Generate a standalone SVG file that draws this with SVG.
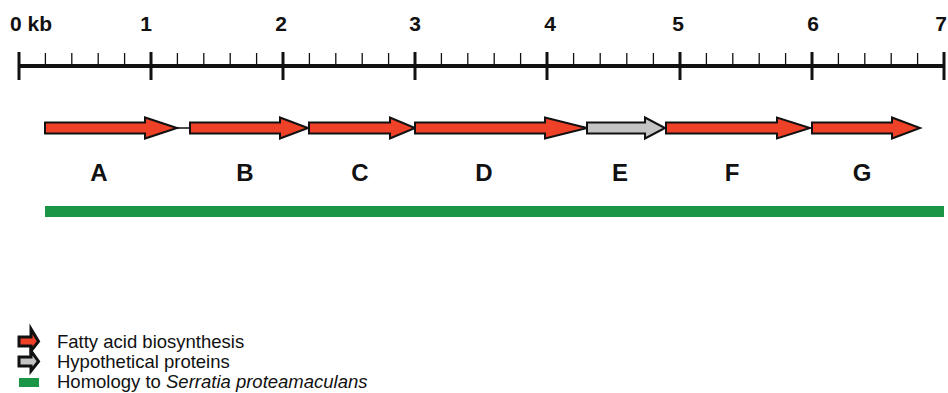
<svg xmlns="http://www.w3.org/2000/svg" width="948" height="393" viewBox="0 0 948 393">
<style>
.sc{font-family:"Liberation Sans",Arial,sans-serif;font-weight:bold;font-size:21px;fill:#111;text-anchor:middle}
.gl{font-family:"Liberation Sans",Arial,sans-serif;font-weight:bold;font-size:24px;fill:#111;text-anchor:middle}
.lg{font-family:"Liberation Sans",Arial,sans-serif;font-size:18.5px;fill:#111}
.red{fill:#ee4128;stroke:#111;stroke-width:2;stroke-linejoin:miter}
.grey{fill:#c4c4c4;stroke:#111;stroke-width:2}
.maj{stroke:#111;stroke-width:3}
.min{stroke:#111;stroke-width:1.3}
</style>
<rect width="948" height="393" fill="#fff"/>
<g id="scale">
<line x1="19" y1="66" x2="944" y2="66" stroke="#111" stroke-width="4"/>
<g class="maj">
<line x1="19" y1="52" x2="19" y2="80"/><line x1="151" y1="52" x2="151" y2="80"/><line x1="283" y1="52" x2="283" y2="80"/><line x1="415" y1="52" x2="415" y2="80"/><line x1="547" y1="52" x2="547" y2="80"/><line x1="680" y1="52" x2="680" y2="80"/><line x1="812" y1="52" x2="812" y2="80"/><line x1="944" y1="52" x2="944" y2="80"/>
</g>
<g class="min">
<line x1="45.4" y1="53" x2="45.4" y2="64"/><line x1="71.8" y1="53" x2="71.8" y2="64"/><line x1="98.2" y1="53" x2="98.2" y2="64"/><line x1="124.6" y1="53" x2="124.6" y2="64"/>
<line x1="177.4" y1="53" x2="177.4" y2="64"/><line x1="203.8" y1="53" x2="203.8" y2="64"/><line x1="230.2" y1="53" x2="230.2" y2="64"/><line x1="256.6" y1="53" x2="256.6" y2="64"/>
<line x1="309.4" y1="53" x2="309.4" y2="64"/><line x1="335.8" y1="53" x2="335.8" y2="64"/><line x1="362.2" y1="53" x2="362.2" y2="64"/><line x1="388.6" y1="53" x2="388.6" y2="64"/>
<line x1="441.4" y1="53" x2="441.4" y2="64"/><line x1="467.8" y1="53" x2="467.8" y2="64"/><line x1="494.2" y1="53" x2="494.2" y2="64"/><line x1="520.6" y1="53" x2="520.6" y2="64"/>
<line x1="573.6" y1="53" x2="573.6" y2="64"/><line x1="600.2" y1="53" x2="600.2" y2="64"/><line x1="626.8" y1="53" x2="626.8" y2="64"/><line x1="653.4" y1="53" x2="653.4" y2="64"/>
<line x1="706.4" y1="53" x2="706.4" y2="64"/><line x1="732.8" y1="53" x2="732.8" y2="64"/><line x1="759.2" y1="53" x2="759.2" y2="64"/><line x1="785.6" y1="53" x2="785.6" y2="64"/>
<line x1="838.4" y1="53" x2="838.4" y2="64"/><line x1="864.8" y1="53" x2="864.8" y2="64"/><line x1="891.2" y1="53" x2="891.2" y2="64"/><line x1="917.6" y1="53" x2="917.6" y2="64"/>
</g>
<text class="sc" x="10" y="31" style="text-anchor:start">0 kb</text>
<text class="sc" x="146" y="31">1</text>
<text class="sc" x="281" y="31">2</text>
<text class="sc" x="415" y="31">3</text>
<text class="sc" x="550" y="31">4</text>
<text class="sc" x="678" y="31">5</text>
<text class="sc" x="813" y="31">6</text>
<text class="sc" x="941" y="31">7</text>
</g>
<g id="connectors">
<line x1="177" y1="128" x2="190" y2="128" stroke="#111" stroke-width="1.5"/>
</g>
<g id="geneA"><polygon class="red" points="45,122.5 145,122.5 145,117.5 177,128 145,138.5 145,133.5 45,133.5"/><text class="gl" x="99" y="181">A</text></g>
<g id="geneB"><polygon class="red" points="190,122.5 280,122.5 280,117.5 308,128 280,138.5 280,133.5 190,133.5"/><text class="gl" x="245" y="181">B</text></g>
<g id="geneC"><polygon class="red" points="309,122.5 390,122.5 390,117.5 415,128 390,138.5 390,133.5 309,133.5"/><text class="gl" x="360" y="181">C</text></g>
<g id="geneD"><polygon class="red" points="415,122.5 545,122.5 545,117.5 587,128 545,138.5 545,133.5 415,133.5"/><text class="gl" x="484" y="181">D</text></g>
<g id="geneE"><polygon class="grey" points="587,122.5 645,122.5 645,117.5 665,128 645,138.5 645,133.5 587,133.5"/><text class="gl" x="620" y="181">E</text></g>
<g id="geneF"><polygon class="red" points="666,122.5 777,122.5 777,117.5 810,128 777,138.5 777,133.5 666,133.5"/><text class="gl" x="732" y="181">F</text></g>
<g id="geneG"><polygon class="red" points="812,122.5 892,122.5 892,117.5 920,128 892,138.5 892,133.5 812,133.5"/><text class="gl" x="862" y="181">G</text></g>
<g id="homology"><rect x="45" y="206" width="899" height="11" fill="#1b9546"/></g>
<g id="legend">
<polygon points="19,337 31,337 31,329 38.5,341.5 31,351 31,346 19,346" fill="#ee4128" stroke="#111" stroke-width="3" stroke-linejoin="miter"/>
<polygon points="19,357 31,357 31,351 38.5,361.5 31,371 31,366 19,366" fill="#c4c4c4" stroke="#111" stroke-width="3" stroke-linejoin="miter"/>
<rect x="19" y="378" width="20" height="9" fill="#1b9546"/>
<text class="lg" x="57" y="348">Fatty acid biosynthesis</text>
<text class="lg" x="57" y="368">Hypothetical proteins</text>
<text class="lg" x="57" y="388">Homology to <tspan font-style="italic">Serratia proteamaculans</tspan></text>
</g>
</svg>
